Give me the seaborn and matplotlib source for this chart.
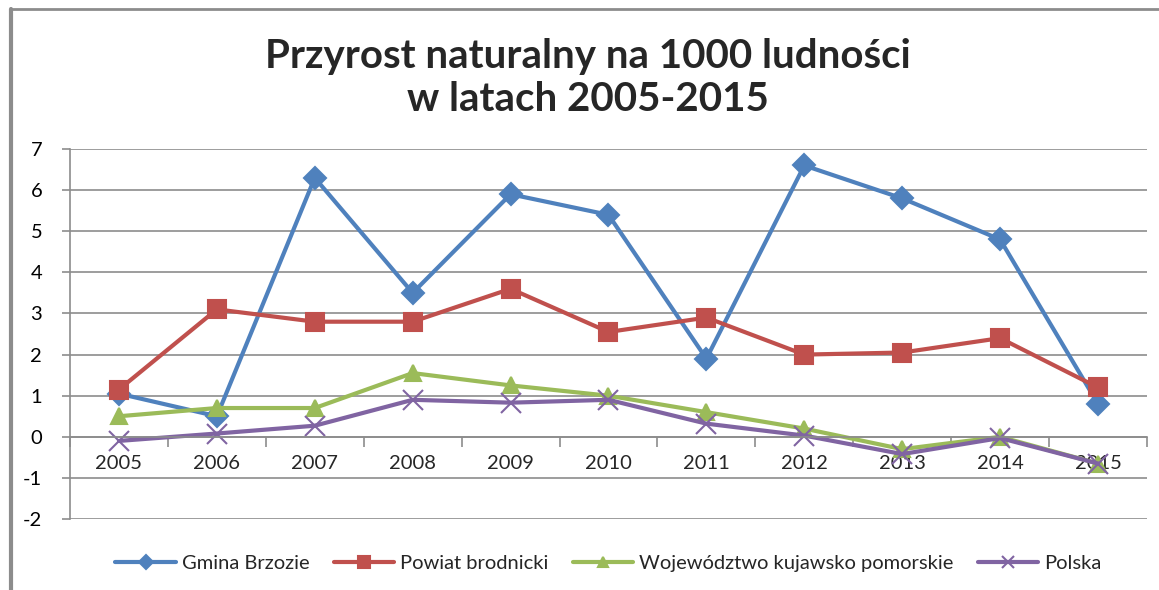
import pandas as pd
import matplotlib.pyplot as plt
import seaborn as sns

sns.set_theme(style="white")
plt.rcParams['font.family'] = ['Lato', 'DejaVu Sans']

# data
years = ["2005", "2006", "2007", "2008", "2009", "2010",
         "2011", "2012", "2013", "2014", "2015"]
gmina = [1.05, 0.5, 6.3, 3.5, 5.9, 5.4, 1.9, 6.6, 5.8, 4.8, 0.8]
powiat = [1.15, 3.1, 2.8, 2.8, 3.6, 2.55, 2.9, 2.0, 2.05, 2.4, 1.2]
wojewodztwo = [0.5, 0.7, 0.7, 1.55, 1.25, 1.0, 0.6, 0.2, -0.3, 0.0, -0.65]
polska = [-0.1, 0.08, 0.27, 0.9, 0.83, 0.9, 0.32, 0.03, -0.42, -0.03, -0.65]

series = ["Gmina Brzozie", "Powiat brodnicki",
          "Województwo kujawsko pomorskie", "Polska"]
colors = ["#4F81BD", "#C0504D", "#9BBB59", "#8064A2"]
markers = ["D", "s", "^", "x"]
marker_sizes = [11, 13, 12, 14]
y_ticks = [7, 6, 5, 4, 3, 2, 1, 0, -1, -2]
y_labels = ["7", "6", "5", "4", "3", "2", "1", "0", "-1", "-2"]

fig = plt.figure(figsize=(11.59, 5.90), dpi=100)
ax = fig.add_axes([0.0604, 0.1203, 0.9292, 0.6271])

for name, vals, c, m, ms in zip(series, [gmina, powiat, wojewodztwo, polska],
                                colors, markers, marker_sizes):
    df = pd.DataFrame({"x": range(len(years)), "Wartość": vals})
    sns.lineplot(data=df, x="x", y="Wartość", color=c, marker=m,
                 markersize=ms, markeredgewidth=1.5, markeredgecolor=c,
                 linewidth=3, label=name, ax=ax)

ax.set_xlim(-0.5, len(years) - 0.5)
ax.set_ylim(-2, 7)
ax.set_xlabel("")
ax.set_ylabel("")

grid_c = "#8c8c8c"
ax.set_yticks(y_ticks)
ax.set_yticklabels(y_labels)
ax.yaxis.grid(True, color=grid_c, linewidth=1.2)
ax.set_axisbelow(True)
ax.tick_params(axis="y", left=True, length=6, width=1.2, color=grid_c,
               pad=14, labelsize=14.5, labelcolor="black")

# x axis crosses at zero, ticks between categories
ax.spines["bottom"].set_position(("data", 0))
ax.spines["bottom"].set_color(grid_c)
ax.spines["bottom"].set_linewidth(1.2)
ax.spines["left"].set_color(grid_c)
ax.spines["left"].set_linewidth(1.2)
ax.spines["top"].set_visible(False)
ax.spines["right"].set_visible(False)
ax.set_xticks(range(len(years)))
ax.set_xticklabels(years)
ax.set_xticks([i - 0.5 for i in range(len(years) + 1)], minor=True)
ax.tick_params(axis="x", which="major", length=0, pad=13, labelsize=14.5)
ax.tick_params(axis="x", which="minor", bottom=True, length=7, width=1.2,
               color=grid_c, direction="out")

ax.legend(loc="center", bbox_to_anchor=(0.5, -0.119), ncol=4, frameon=False,
          fontsize=14.5, handlelength=3.0, handletextpad=0.3, columnspacing=1.2,
          markerscale=0.65)

fig.text(0.507, 0.868, "Przyrost naturalny na 1000 ludności\nw latach 2005-2015",
         ha="center", va="center", fontsize=29, fontweight="bold",
         linespacing=1.22)

# outer chart frame (left and top edges)
fig.add_artist(plt.Line2D([0.0095, 0.0095], [0, 0.984], color="#8c8c8c",
                          linewidth=3, transform=fig.transFigure))
fig.add_artist(plt.Line2D([0.0095, 1], [0.984, 0.984], color="#8c8c8c",
                          linewidth=2, transform=fig.transFigure))

fig.savefig("out.png", dpi=100)
